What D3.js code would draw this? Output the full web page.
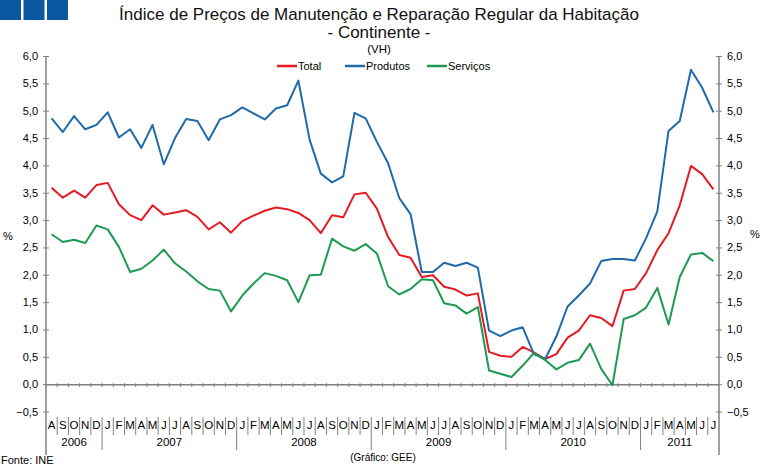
<!DOCTYPE html>
<html>
<head>
<meta charset="utf-8">
<script src="https://cdn.jsdelivr.net/npm/d3@7"></script>
<style>
  body { margin: 0; background: #fff; }
  svg text { font-family: "Liberation Sans", Arial, sans-serif; fill: #000; }
</style>
</head>
<body>
<div id="chart"></div>
<script>
// month letters and years on the category axis
var monthLetters = ["J","F","M","A","M","J","J","A","S","O","N","D"];
var years = [
    { label: "2006", first: 7, last: 11 },
    { label: "2007", first: 0, last: 11 },
    { label: "2008", first: 0, last: 11 },
    { label: "2009", first: 0, last: 11 },
    { label: "2010", first: 0, last: 11 },
    { label: "2011", first: 0, last: 6 }
];

// VH (%) Aug 2006 .. Jul 2011
var total = [3.59,3.41,3.54,3.41,3.64,3.68,3.29,3.09,3.00,3.27,
             3.10,3.14,3.18,3.06,2.83,2.96,2.77,2.98,3.08,3.17,
             3.23,3.20,3.13,3.00,2.76,3.09,3.05,3.47,3.50,3.21,
             2.69,2.36,2.31,1.96,1.99,1.78,1.73,1.62,1.66,0.59,
             0.52,0.50,0.68,0.58,0.46,0.55,0.85,0.98,1.26,1.21,
             1.06,1.71,1.74,2.03,2.45,2.76,3.27,3.99,3.84,3.56];
var produtos = [4.86,4.61,4.90,4.66,4.74,4.97,4.51,4.66,4.32,4.74,
                4.02,4.50,4.85,4.81,4.46,4.84,4.92,5.06,4.95,4.84,
                5.04,5.10,5.55,4.47,3.85,3.69,3.80,4.96,4.86,4.43,
                4.04,3.40,3.11,2.05,2.05,2.22,2.16,2.22,2.13,0.98,
                0.88,0.98,1.04,0.55,0.46,0.87,1.42,1.62,1.84,2.25,
                2.29,2.29,2.26,2.67,3.16,4.63,4.81,5.75,5.42,4.97];
var servicos = [2.74,2.60,2.64,2.58,2.90,2.83,2.51,2.05,2.11,2.26,
                2.46,2.21,2.06,1.88,1.74,1.71,1.33,1.62,1.84,2.03,
                1.98,1.90,1.50,1.99,2.00,2.66,2.52,2.44,2.56,2.39,
                1.79,1.64,1.74,1.92,1.90,1.48,1.44,1.29,1.41,0.25,
                0.19,0.13,0.34,0.57,0.44,0.27,0.39,0.44,0.74,0.28,
                -0.02,1.19,1.26,1.40,1.76,1.09,1.96,2.37,2.40,2.25];

var yTicks = [-0.5,0,0.5,1,1.5,2,2.5,3,3.5,4,4.5,5,5.5,6];

var width = 767, height = 468;
var plotLeft = 46, plotRight = 719, plotTop = 56, plotBottom = 411.5;
var axisColor = "#808080";

// build the month categories
var months = [];
years.forEach(function(yr) {
    for (var m = yr.first; m <= yr.last; m++) {
        months.push({ key: yr.label + "-" + m, letter: monthLetters[m], yearStart: m === 0 });
    }
});

var series = [
    { name: "Total", values: total, color: "#e31b23" },
    { name: "Produtos", values: produtos, color: "#1f6aa8" },
    { name: "Serviços", values: servicos, color: "#1f9a52" }
];

var svg = d3.select("#chart").append("svg")
    .attr("width", width)
    .attr("height", height);

// logo squares
svg.selectAll("rect.logo")
    .data([0, 1, 2])
    .enter().append("rect")
    .attr("class", "logo")
    .attr("x", function(d) { return d * 23.5; })
    .attr("y", 0)
    .attr("width", 21)
    .attr("height", 20)
    .style("fill", "#0b57a0");

// titles
svg.append("text").attr("x", 379).attr("y", 20).attr("text-anchor", "middle")
    .style("font-size", "17px").style("fill", "#111")
    .text("Índice de Preços de Manutenção e Reparação Regular da Habitação");
svg.append("text").attr("x", 379).attr("y", 38).attr("text-anchor", "middle")
    .style("font-size", "17px").style("fill", "#111").text("- Continente -");
svg.append("text").attr("x", 379).attr("y", 53).attr("text-anchor", "middle")
    .style("font-size", "11.5px").text("(VH)");

var x = d3.scaleBand()
    .domain(months.map(function(d) { return d.key; }))
    .range([plotLeft, plotRight])
    .padding(0);

var y = d3.scaleLinear()
    .domain([-0.5, 6])
    .range([plotBottom, plotTop]);

var fmt = function(d) { return d3.format(".1f")(d).replace(".", ","); };

// left & right value axes
var yLeft = svg.append("g")
    .attr("transform", "translate(" + plotLeft + ",0)")
    .call(d3.axisLeft(y).tickValues(yTicks).tickFormat(fmt).tickSize(3).tickPadding(5));
var yRight = svg.append("g")
    .attr("transform", "translate(" + plotRight + ",0)")
    .call(d3.axisRight(y).tickValues(yTicks).tickFormat(fmt).tickSize(3).tickPadding(5));

[yLeft, yRight].forEach(function(g) {
    g.select(".domain").remove();
    g.selectAll(".tick line").attr("x1", -3).attr("x2", 3).style("stroke", axisColor);
    g.selectAll(".tick text").style("font-size", "11px").style("font-family", "Liberation Sans, Arial, sans-serif");
    g.append("line").attr("x1", 0).attr("x2", 0).attr("y1", plotTop).attr("y2", 455)
        .style("stroke", axisColor).style("stroke-width", 1.5);
});

svg.append("text").attr("x", 8).attr("y", 240).attr("text-anchor", "middle")
    .style("font-size", "11px").text("%");
svg.append("text").attr("x", 755).attr("y", 238).attr("text-anchor", "middle")
    .style("font-size", "11px").text("%");

// zero line with month ticks
var zeroAxis = svg.append("g")
    .attr("transform", "translate(0," + y(0) + ")")
    .call(d3.axisBottom(x).tickSize(0).tickFormat(""));
zeroAxis.select(".domain").style("stroke", axisColor).style("stroke-width", 1.5);
zeroAxis.selectAll(".tick").remove();
zeroAxis.selectAll("line.mt")
    .data(months.slice(1))
    .enter().append("line")
    .attr("class", "mt")
    .attr("x1", function(d) { return x(d.key); })
    .attr("x2", function(d) { return x(d.key); })
    .attr("y1", -1)
    .attr("y2", 3)
    .style("stroke", axisColor);

// category labels under the chart
var cat = svg.append("g");
cat.selectAll("line.msep")
    .data(months.slice(1))
    .enter().append("line")
    .attr("class", "msep")
    .attr("x1", function(d) { return x(d.key); })
    .attr("x2", function(d) { return x(d.key); })
    .attr("y1", 417)
    .attr("y2", function(d) { return d.yearStart ? 450 : 435; })
    .style("stroke", axisColor);

cat.selectAll("text.month")
    .data(months)
    .enter().append("text")
    .attr("class", "month")
    .attr("x", function(d) { return x(d.key) + x.bandwidth() / 2; })
    .attr("y", 429)
    .attr("text-anchor", "middle")
    .style("font-size", "11.5px")
    .text(function(d) { return d.letter; });

cat.selectAll("text.year")
    .data(years)
    .enter().append("text")
    .attr("class", "year")
    .attr("x", function(d) {
        var a = x(d.label + "-" + d.first), b = x(d.label + "-" + d.last) + x.bandwidth();
        return (a + b) / 2;
    })
    .attr("y", 446)
    .attr("text-anchor", "middle")
    .style("font-size", "11.5px")
    .text(function(d) { return d.label; });

// series lines
var line = d3.line()
    .x(function(d, i) { return x(months[i].key) + x.bandwidth() / 2; })
    .y(function(d) { return y(d); });

svg.selectAll("path.series")
    .data(series)
    .enter().append("path")
    .attr("class", "series")
    .attr("d", function(d) { return line(d.values); })
    .style("fill", "none")
    .style("stroke", function(d) { return d.color; })
    .style("stroke-width", 2)
    .style("stroke-linejoin", "round");

// legend
var legendX = [277, 345, 427];
var legend = svg.selectAll("g.legend")
    .data(series)
    .enter().append("g")
    .attr("class", "legend")
    .attr("transform", function(d, i) { return "translate(" + legendX[i] + ",66)"; });
legend.append("line")
    .attr("x1", 0).attr("x2", 20).attr("y1", 0).attr("y2", 0)
    .style("stroke", function(d) { return d.color; })
    .style("stroke-width", 2.5);
legend.append("text")
    .attr("x", 21).attr("y", 4)
    .style("font-size", "11px")
    .text(function(d) { return d.name; });

// sources
svg.append("text").attr("x", 1).attr("y", 464).style("font-size", "11px").text("Fonte: INE");
svg.append("text").attr("x", 383).attr("y", 461).attr("text-anchor", "middle")
    .style("font-size", "10px").text("(Gráfico: GEE)");
</script>
</body>
</html>
